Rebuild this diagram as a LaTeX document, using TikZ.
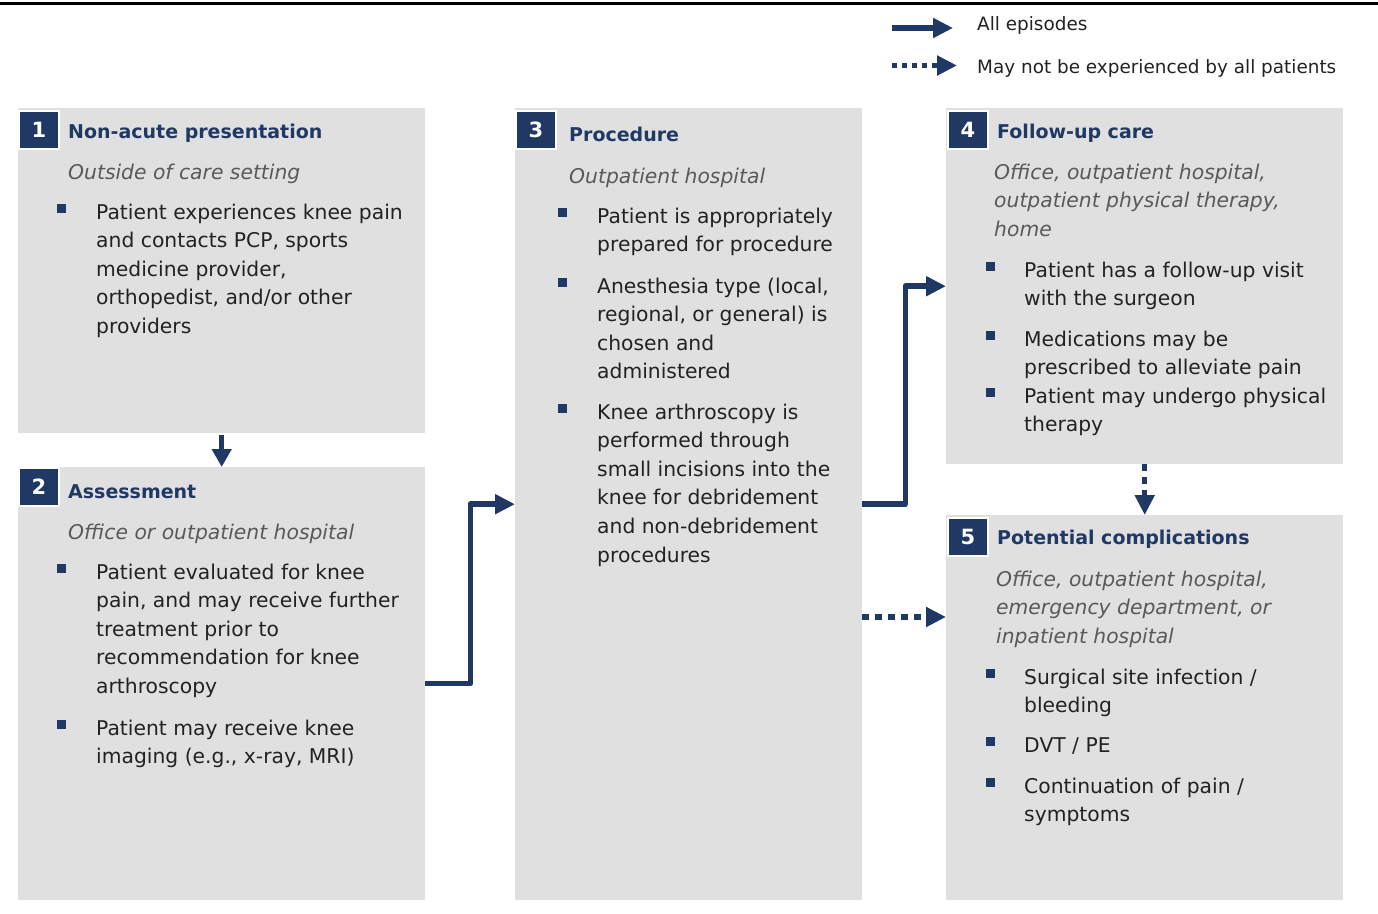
\documentclass[tikz,border=0pt]{standalone}
\usepackage{fontspec}
\setmainfont{DejaVu Sans}
\usetikzlibrary{arrows.meta}
\definecolor{navy}{HTML}{1F3864}
\definecolor{boxgray}{HTML}{E0E0E0}
\definecolor{subgray}{HTML}{595959}
\definecolor{bodytxt}{HTML}{222222}
\newcommand{\mylines}[1]{\begin{tabular}[t]{@{}l@{}}#1\end{tabular}}
\tikzset{
  box/.style={fill=boxgray, draw=none, anchor=north west, inner sep=0pt},
  numbox/.style={fill=navy, draw=white, line width=2pt, anchor=north west, minimum width=40pt, minimum height=38pt, inner sep=0pt, text=white, font=\fontsize{21}{21}\selectfont\bfseries},
  titletxt/.style={anchor=base west, inner sep=0pt, text=navy, font=\fontsize{19}{19}\selectfont\bfseries},
  subtxt/.style={anchor=base west, inner sep=0pt, yshift=-2pt, text=subgray, font=\fontsize{20.3}{28.6}\selectfont\itshape},
  bodytext/.style={anchor=base west, inner sep=0pt, yshift=-2pt, text=bodytxt, font=\fontsize{20.3}{28.6}\selectfont},
  bulletsq/.style={fill=navy, minimum size=9pt, inner sep=0pt},
  flow/.style={draw=navy, line width=5.5pt, line join=round, -{Triangle[length=20pt,width=19pt]}},
  dotflow/.style={flow, dash pattern=on 6.5pt off 6.5pt},
  legendtxt/.style={anchor=base west, inner sep=0pt, text=bodytxt, font=\fontsize{18.4}{18.4}\selectfont},
}
\begin{document}
\begin{tikzpicture}[x=1pt,y=-1pt]
\useasboundingbox (0,0) rectangle (1378,913);
\draw[line width=3pt, black] (0,3) -- (1378,3);

% legend
\coordinate (la1) at (892,28);
\coordinate (lb1) at (953,28);
\coordinate (la2) at (892,65.5);
\coordinate (lb2) at (957,65.5);
\draw[flow] (la1) -- (lb1);
\draw[dotflow, dash pattern=on 5pt off 5pt] (la2) -- (lb2);
\node[legendtxt] (leg1) at (977,30) {All episodes};
\node[legendtxt] (leg2) at (977,73) {May not be experienced by all patients};

% boxes
\node[box, minimum width=407pt, minimum height=325pt] (b1) at (18,108) {};
\node[box, minimum width=407pt, minimum height=433pt] (b2) at (18,467) {};
\node[box, minimum width=347pt, minimum height=792pt] (b3) at (515,108) {};
\node[box, minimum width=397pt, minimum height=356pt] (b4) at (946,108) {};
\node[box, minimum width=397pt, minimum height=385pt] (b5) at (946,515) {};

% number squares
\node[numbox] (n1) at (18,110) {1};
\node[numbox] (n2) at (18,467) {2};
\node[numbox] (n3) at (515,110) {3};
\node[numbox] (n4) at (947,110) {4};
\node[numbox] (n5) at (947,517) {5};

% box 1
\node[titletxt] (t1) at (68,138) {Non-acute presentation};
\node[subtxt] (s1) at (68,177) {Outside of care setting};
\node[bulletsq] (q11) at (61.5,208) {};
\node[bodytext] (p11) at (96,217) {\mylines{Patient experiences knee pain\\and contacts PCP, sports\\medicine provider,\\orthopedist, and/or other\\providers}};

% box 2
\node[titletxt] (t2) at (68,498) {Assessment};
\node[subtxt] (s2) at (68,537) {Office or outpatient hospital};
\node[bulletsq] (q21) at (61.5,568) {};
\node[bodytext] (p21) at (96,577) {\mylines{Patient evaluated for knee\\pain, and may receive further\\treatment prior to\\recommendation for knee\\arthroscopy}};
\node[bulletsq] (q22) at (61.5,724) {};
\node[bodytext] (p22) at (96,733) {\mylines{Patient may receive knee\\imaging (e.g., x-ray, MRI)}};

% box 3
\node[titletxt] (t3) at (569,141) {Procedure};
\node[subtxt] (s3) at (569,181) {Outpatient hospital};
\node[bulletsq] (q31) at (562,212) {};
\node[bodytext] (p31) at (597,221) {\mylines{Patient is appropriately\\prepared for procedure}};
\node[bulletsq] (q32) at (562,282) {};
\node[bodytext] (p32) at (597,291) {\mylines{Anesthesia type (local,\\regional, or general) is\\chosen and\\administered}};
\node[bulletsq] (q33) at (562,408) {};
\node[bodytext] (p33) at (597,417) {\mylines{Knee arthroscopy is\\performed through\\small incisions into the\\knee for debridement\\and non-debridement\\procedures}};

% box 4
\node[titletxt] (t4) at (997,138) {Follow-up care};
\node[subtxt] (s4) at (994,177) {\mylines{Office, outpatient hospital,\\outpatient physical therapy,\\home}};
\node[bulletsq] (q41) at (990,266) {};
\node[bodytext] (p41) at (1024,275) {\mylines{Patient has a follow-up visit\\with the surgeon}};
\node[bulletsq] (q42) at (990,335) {};
\node[bodytext] (p42) at (1024,344) {\mylines{Medications may be\\prescribed to alleviate pain}};
\node[bulletsq] (q43) at (990,392) {};
\node[bodytext] (p43) at (1024,401) {\mylines{Patient may undergo physical\\therapy}};

% box 5
\node[titletxt] (t5) at (997,544) {Potential complications};
\node[subtxt] (s5) at (996,584) {\mylines{Office, outpatient hospital,\\emergency department, or\\inpatient hospital}};
\node[bulletsq] (q51) at (990,673) {};
\node[bodytext] (p51) at (1024,682) {\mylines{Surgical site infection /\\bleeding}};
\node[bulletsq] (q52) at (990,741) {};
\node[bodytext] (p52) at (1024,750) {DVT / PE};
\node[bulletsq] (q53) at (990,782) {};
\node[bodytext] (p53) at (1024,791) {\mylines{Continuation of pain /\\symptoms}};

% connectors
\draw[flow, -{Triangle[length=18pt,width=19pt]}, shorten <=2pt] (b1.south) -- (b2.north);
\draw[flow] (b2.east) -- ++(45,0) |- (b3.west);
\draw[flow] (b3.east) -- ++(43,0) |- (b4.west);
\draw[dotflow] (b3.east |- 0,617) -- (b5.west |- 0,617);
\draw[dotflow] (b4.south) -- (b5.north);
\end{tikzpicture}
\end{document}
